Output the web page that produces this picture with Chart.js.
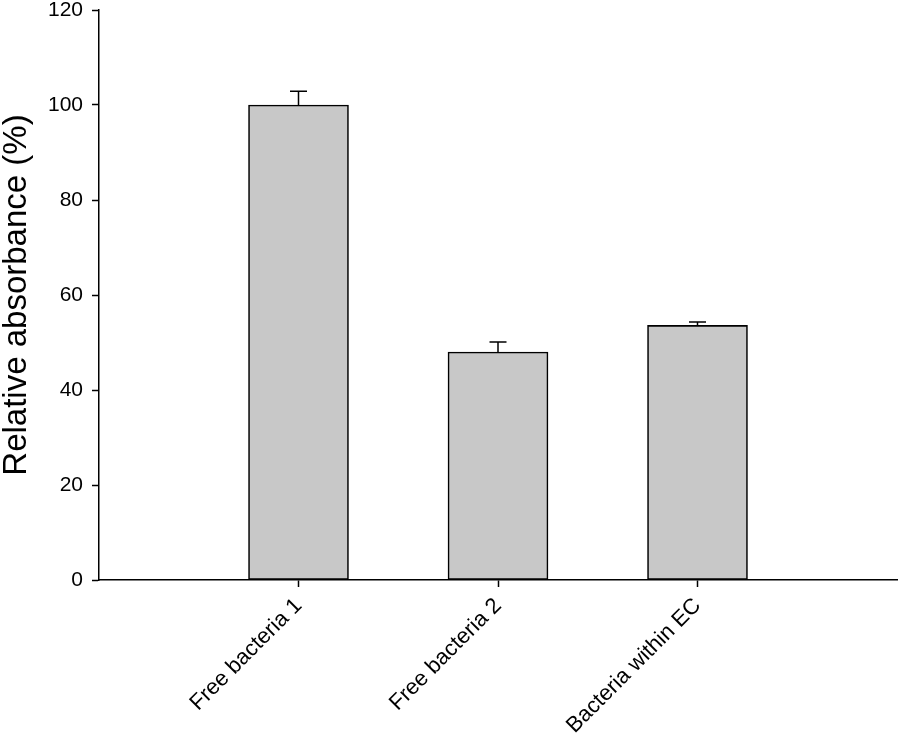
<!DOCTYPE html>
<html>
<head>
<meta charset="utf-8">
<script src="https://cdn.jsdelivr.net/npm/chart.js@4/dist/chart.umd.min.js"></script>
<style>
  html, body { margin: 0; padding: 0; background: #fff; }
  #wrap { width: 898px; height: 735px; }
</style>
</head>
<body>
<div id="wrap"><canvas id="myChart" width="898" height="735"></canvas></div>
<script>
// values
const categories = ["Free bacteria 1", "Free bacteria 2", "Bacteria within EC"];
const absorbance = [100, 48, 53.6];
const errors = [2.9, 2.1, 0.7];
const yTicks = [0, 20, 40, 60, 80, 100, 120];

// empty slots at both ends so the bars sit at 1, 2, 3 on a 0..4 axis
const labels = ["", ...categories, ""];
const barData = [null, ...absorbance, null];
const errData = [null, ...errors, null];

// simple upward error bars with a cap
const errorBars = {
    id: "errorBars",
    afterDatasetsDraw(chart) {
        const ctx = chart.ctx;
        const meta = chart.getDatasetMeta(0);
        const yScale = chart.scales.y;
        ctx.save();
        ctx.strokeStyle = "#000";
        ctx.lineWidth = 1.5;
        meta.data.forEach((bar, i) => {
            const v = barData[i], e = errData[i];
            if (v == null || e == null) return;
            const x = bar.x;
            const yTop = yScale.getPixelForValue(v + e);
            const yBase = yScale.getPixelForValue(v);
            ctx.beginPath();
            ctx.moveTo(x, yBase);
            ctx.lineTo(x, yTop);
            ctx.moveTo(x - 8.5, yTop);
            ctx.lineTo(x + 8.5, yTop);
            ctx.stroke();
        });
        ctx.restore();
    }
};

Chart.defaults.font.family = "'Liberation Sans', Arial, sans-serif";
Chart.defaults.color = "#000";

new Chart("myChart", {
    type: "bar",
    data: {
        labels: labels,
        datasets: [{
            data: barData,
            backgroundColor: "#c8c8c8",
            borderColor: "#000",
            borderWidth: 1.6,
            borderSkipped: false,
            barThickness: 100
        }]
    },
    options: {
        responsive: false,
        animation: false,
        layout: { padding: { top: 0, right: 1, left: 0, bottom: 0 } },
        plugins: {
            legend: { display: false },
            tooltip: { enabled: false }
        },
        scales: {
            x: {
                offset: false,
                grid: {
                    offset: false,
                    drawOnChartArea: false,
                    tickLength: 7,
                    tickWidth: 1.5,
                    tickColor: (c) => (c.index >= 1 && c.index <= categories.length) ? "#000" : "rgba(0,0,0,0)"
                },
                border: { color: "#000", width: 1.5 },
                ticks: {
                    autoSkip: false,
                    minRotation: 45,
                    maxRotation: 45,
                    padding: 6,
                    font: { size: 22 }
                },
                afterFit(scale) {
                    scale.height = 155;
                    scale.paddingLeft = 0;
                    scale.paddingRight = 0;
                }
            },
            y: {
                min: 0,
                max: 120,
                afterBuildTicks(scale) { scale.ticks = yTicks.map(v => ({ value: v })); },
                grid: {
                    drawOnChartArea: false,
                    tickLength: 7,
                    tickWidth: 1.5,
                    tickColor: "#000"
                },
                border: { color: "#000", width: 1.5 },
                ticks: { padding: 9, font: { size: 21 } },
                title: {
                    display: true,
                    text: "Relative absorbance (%)",
                    font: { size: 33, lineHeight: 1 },
                    padding: { top: 0, bottom: 0 }
                },
                afterFit(scale) {
                    scale.width = 99;
                    scale.paddingTop = 10;
                    scale.paddingBottom = 0;
                }
            }
        }
    },
    plugins: [errorBars]
});
</script>
</body>
</html>
